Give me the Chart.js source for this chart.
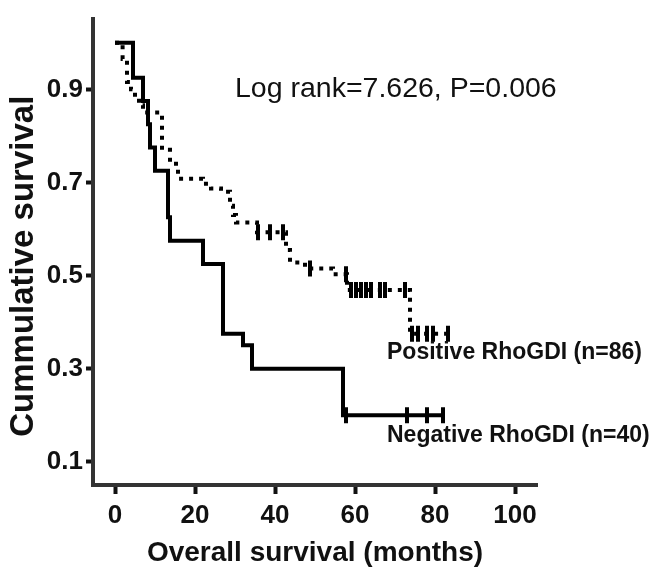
<!DOCTYPE html>
<html>
<head>
<meta charset="utf-8">
<script src="https://cdn.jsdelivr.net/npm/chart.js@4/dist/chart.umd.min.js"></script>
<style>
  html, body { margin: 0; padding: 0; background: #fff; }
  #wrap { width: 656px; height: 577px; position: relative; }
</style>
</head>
<body>
<div id="wrap"><canvas id="km"></canvas></div>
<script>
'use strict';

var X_TICKS = [0, 20, 40, 60, 80, 100];
var Y_TICKS = [0.1, 0.3, 0.5, 0.7, 0.9];

// Negative RhoGDI (solid)
var NEG_MONTHS = [0, 4.5, 7, 8.25, 8.75, 10, 13.25, 13.75, 22, 27, 32, 34.25, 57, 82];
var NEG_SURV   = [1.0, 0.925, 0.875, 0.825, 0.775, 0.725, 0.625, 0.575, 0.525, 0.375, 0.35, 0.30, 0.20, 0.20];
var NEG_CENS_MONTHS = [57.75, 73, 78, 82];
var NEG_CENS_SURV   = [0.20, 0.20, 0.20, 0.20];

// Positive RhoGDI (dotted)
var POS_MONTHS = [0, 1.9, 3, 4, 5, 6, 7, 11.75, 13.75, 15.75, 22, 24, 26.5, 28.75, 29.5, 30.25, 35.5, 42.75, 43.75, 47.5, 54.5, 58, 73.75, 83.25];
var POS_SURV   = [1.0, 0.965, 0.916, 0.9, 0.883, 0.866, 0.85, 0.77, 0.74, 0.708, 0.697, 0.687, 0.68, 0.65, 0.63, 0.614, 0.593, 0.555, 0.528, 0.515, 0.503, 0.469, 0.375, 0.375];
var POS_CENS_MONTHS = [35.75, 38.75, 42, 48.75, 57.75, 59, 60.25, 61.5, 62.75, 64, 66.25, 67.5, 72.5, 74.25, 75.75, 78, 79.5, 83.25];
var POS_CENS_SURV   = [0.593, 0.593, 0.593, 0.515, 0.503, 0.469, 0.469, 0.469, 0.469, 0.469, 0.469, 0.469, 0.469, 0.375, 0.375, 0.375, 0.375, 0.375];

var FONT = '"Liberation Sans", Arial, sans-serif';

function pts(xs, ys) {
  return xs.map(function (x, i) { return { x: x, y: ys[i] }; });
}

function curve(xs, ys, dash) {
  return {
    data: pts(xs, ys),
    showLine: true,
    stepped: 'before',   // hold level, then drop at the event time
    borderColor: '#000',
    borderWidth: 4,
    borderDash: dash,
    borderCapStyle: 'butt',
    pointRadius: 0
  };
}

function censors(xs, ys) {
  return {
    data: pts(xs, ys),
    showLine: false,
    pointStyle: 'line',
    rotation: 90,
    pointRadius: 8,
    borderWidth: 4,
    borderColor: '#000',
    backgroundColor: '#000'
  };
}

// text labels inside the plot + rotated y title
var annotate = {
  id: 'annotate',
  afterDraw: function (chart) {
    var ctx = chart.ctx;
    var xs = chart.scales.x, ys = chart.scales.y;
    ctx.save();
    ctx.fillStyle = '#111';
    ctx.textBaseline = 'middle';
    ctx.textAlign = 'left';
    ctx.font = '28.5px ' + FONT;
    ctx.fillText('Log rank=7.626, P=0.006', xs.getPixelForValue(30), ys.getPixelForValue(0.9));
    ctx.font = 'bold 23px ' + FONT;
    ctx.fillText('Positive RhoGDI (n=86)', xs.getPixelForValue(68), ys.getPixelForValue(0.335));
    ctx.fillText('Negative RhoGDI (n=40)', xs.getPixelForValue(68), ys.getPixelForValue(0.155));
    ctx.translate(24, ys.getPixelForValue(0.52));
    ctx.rotate(-Math.PI / 2);
    ctx.textAlign = 'center';
    ctx.font = 'bold 33px ' + FONT;
    ctx.fillText('Cummulative survival', 0, 0);
    ctx.restore();
  }
};

new Chart(document.getElementById('km'), {
  type: 'scatter',
  data: {
    datasets: [
      curve(POS_MONTHS, POS_SURV, [4, 6]),
      curve(NEG_MONTHS, NEG_SURV, []),
      censors(POS_CENS_MONTHS, POS_CENS_SURV),
      censors(NEG_CENS_MONTHS, NEG_CENS_SURV)
    ]
  },
  plugins: [annotate],
  options: {
    responsive: true,
    maintainAspectRatio: false,
    animation: false,
    layout: { padding: { top: 5, right: 119, left: 0, bottom: 0 } },
    plugins: { legend: { display: false }, tooltip: { enabled: false } },
    scales: {
      x: {
        type: 'linear',
        min: -5.5,
        max: 105.5,
        afterBuildTicks: function (s) { s.ticks = X_TICKS.map(function (v) { return { value: v }; }); },
        afterFit: function (s) { s.height = 92; },
        border: { display: true, color: '#333', width: 4 },
        grid: { drawOnChartArea: false, drawTicks: true, tickLength: 9, tickWidth: 4, color: '#111' },
        ticks: { color: '#111', padding: 6, maxRotation: 0, font: { family: FONT, size: 26, weight: 'bold' } },
        title: { display: true, text: 'Overall survival (months)', color: '#111', padding: { top: 0, bottom: 7 }, font: { family: FONT, size: 28, weight: 'bold' } }
      },
      y: {
        type: 'linear',
        min: 0.05,
        max: 1.052,
        afterBuildTicks: function (s) { s.ticks = Y_TICKS.map(function (v) { return { value: v }; }); },
        afterFit: function (s) { s.width = 93; },
        border: { display: true, color: '#333', width: 4 },
        grid: { drawOnChartArea: false, drawTicks: true, tickLength: 7, tickWidth: 4, color: '#111' },
        ticks: { color: '#111', padding: 3, font: { family: FONT, size: 26, weight: 'bold' },
                 callback: function (v) { return v.toFixed(1); } }
      }
    }
  }
});
</script>
</body>
</html>
